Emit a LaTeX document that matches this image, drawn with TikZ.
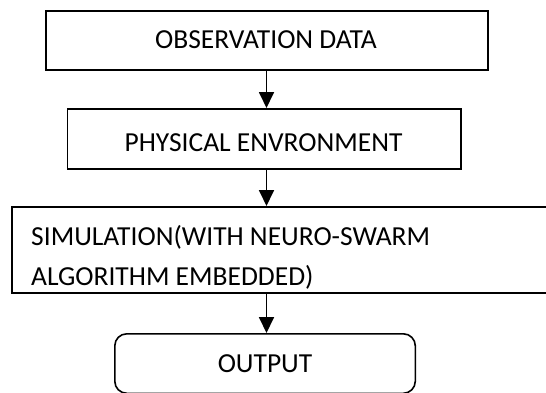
\documentclass[tikz,border=0pt]{standalone}
\usepackage{fontspec}
\setmainfont{Carlito}
\usetikzlibrary{arrows.meta}
\begin{document}
\begin{tikzpicture}[x=1pt,y=-1pt,
  box/.style={draw, line width=1.6pt, inner sep=0pt, anchor=north west},
  lbl/.style={inner sep=0pt, font=\fontsize{27.5}{40}\selectfont},
  arr/.style={line width=1.8pt, -{Triangle[width=15pt,length=16pt]}}]
\fill[white] (0,0) rectangle (546,392);
\useasboundingbox (0,0) rectangle (546,392);
\begin{scope}
\clip (0,0) rectangle (546,392);
\node[box, minimum width=442pt, minimum height=59pt] (b1) at (45,10) {};
\node[box, minimum width=393.5pt, minimum height=60pt] (b2) at (66.5,108) {};
\node[box, minimum width=560pt, minimum height=86pt] (b3) at (11,206) {};
\node[box, rounded corners=12pt, minimum width=300.5pt, minimum height=59.5pt] (b4) at (114,333) {};
\node[lbl, anchor=base] (t1) at (266,48) {OBSERVATION DATA};
\node[lbl, anchor=base] (t2) at (263.5,151) {PHYSICAL ENVRONMENT};
\node[lbl, anchor=base west] (t3a) at (31,245.7) {SIMULATION(WITH NEURO-SWARM};
\node[lbl, anchor=base west] (t3b) at (31,285.8) {ALGORITHM EMBEDDED)};
\node[lbl, anchor=base] (t4) at (265,372) {OUTPUT};
\coordinate (ax) at (266.5,0);
\draw[arr] (b1.south -| ax) -- (b2.north -| ax);
\draw[arr] (b2.south -| ax) -- (b3.north -| ax);
\draw[arr] (b3.south -| ax) -- (b4.north -| ax);
\end{scope}
\end{tikzpicture}
\end{document}
